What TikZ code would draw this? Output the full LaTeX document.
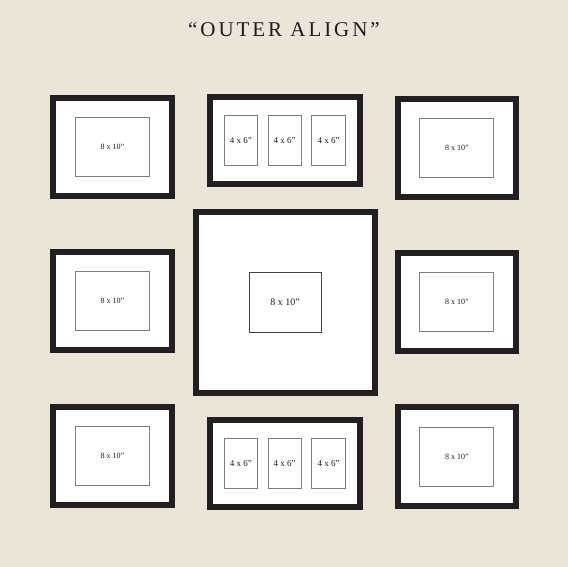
\documentclass[tikz,border=0pt]{standalone}
\usepackage{fontspec}
\setmainfont{Liberation Serif}
\usetikzlibrary{positioning}

\definecolor{wallcol}{RGB}{235,228,217}
\definecolor{framecol}{RGB}{35,31,32}
\definecolor{edgecol}{RGB}{125,125,125}
\definecolor{inkcol}{RGB}{30,28,28}

\tikzset{
	frame/.style={draw=framecol, line width=6pt, fill=white, inner sep=0pt},
	photo/.style={draw=edgecol, line width=0.9pt, fill=white, inner sep=0pt,
		minimum width=73.5pt, minimum height=59pt, text=inkcol,
		font=\fontsize{8}{9}\selectfont},
	photosm/.style={photo, minimum width=33.5pt, minimum height=50pt,
		font=\fontsize{9}{10}\selectfont},
}

\begin{document}
\begin{tikzpicture}[x=1pt, y=-1pt]
	\fill[wallcol] (0,0) rectangle (568,567);
	\useasboundingbox (0,0) rectangle (568,567);
	\node[text=inkcol] (title) at (284,30)
		{\fontsize{21}{24}\selectfont\addfontfeature{LetterSpace=14}``OUTER ALIGN''};
	% left column
	\node[frame, minimum width=119pt, minimum height=98pt] (tl) at (112.5,146.7) {};
	\node[frame, minimum width=119pt, minimum height=98pt] (ml) at (112.5,300.5) {};
	\node[frame, minimum width=119pt, minimum height=98pt] (bl) at (112.5,455.5) {};
	\node[photo] (tlp) at (tl) {8 x 10''};
	\node[photo] (mlp) at (ml) {8 x 10''};
	\node[photo] (blp) at (bl) {8 x 10''};
	% right column
	\node[frame, minimum width=118.5pt, minimum height=98.5pt] (tr) at (456.8,148) {};
	\node[frame, minimum width=118.5pt, minimum height=98.5pt] (mr) at (456.8,302) {};
	\node[frame, minimum width=118.5pt, minimum height=98.5pt] (br) at (456.8,456.6) {};
	\node[photo, minimum width=74pt] (trp) at (tr) {8 x 10''};
	\node[photo, minimum width=74pt] (mrp) at (mr) {8 x 10''};
	\node[photo, minimum width=74pt] (brp) at (br) {8 x 10''};
	% middle column
	\node[frame, minimum width=150pt, minimum height=86.5pt] (tm) at (284.7,140.5) {};
	\node[frame, minimum width=179pt, minimum height=180.5pt] (cc) at (285.2,302.3) {};
	\node[frame, minimum width=150pt, minimum height=87pt] (bm) at (284.7,463.3) {};
	\node[photo, minimum width=72.5pt, minimum height=60pt, draw=framecol!85,
		font=\fontsize{10}{11}\selectfont] (ccp) at (cc) {8 x 10''};
	\node[photosm] (tmb) at (tm) {4 x 6''};
	\node[photosm, left=9.5pt of tmb] (tma) {4 x 6''};
	\node[photosm, right=9.5pt of tmb] (tmc) {4 x 6''};
	\node[photosm] (bmb) at (bm) {4 x 6''};
	\node[photosm, left=9.5pt of bmb] (bma) {4 x 6''};
	\node[photosm, right=9.5pt of bmb] (bmc) {4 x 6''};
\end{tikzpicture}
\end{document}
